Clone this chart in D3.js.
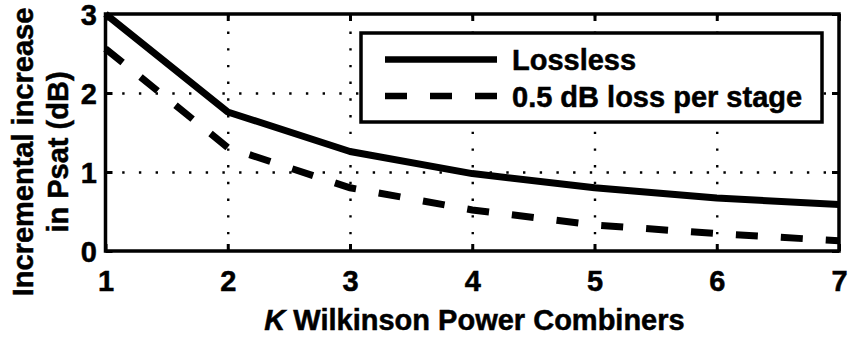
<!DOCTYPE html>
<html>
<head>
<meta charset="utf-8">
<script src="https://cdn.jsdelivr.net/npm/d3@7"></script>
<style>
  html, body { margin: 0; padding: 0; background: #fff; }
  svg { display: block; }
  text { font-family: "Liberation Sans", Arial, Helvetica, sans-serif; font-weight: bold; fill: #000; stroke: #000; stroke-width: 0.5px; }
</style>
</head>
<body>
<svg id="chart" width="848" height="337"></svg>
<script>
// Number of Wilkinson combiner stages
const stages = [1, 2, 3, 4, 5, 6, 7];
// Incremental Psat gain per added stage (dB)
const lossless = [3.0, 1.76, 1.26, 0.98, 0.80, 0.67, 0.59];
const lossyHalfDb = [2.56, 1.31, 0.80, 0.52, 0.33, 0.22, 0.13];
const xTicks = [1, 2, 3, 4, 5, 6, 7];
const yTicks = [0, 1, 2, 3];
const seriesNames = ["Lossless", "0.5 dB loss per stage"];

const W = 848, H = 337;
const m = { left: 105.5, right: W - 839, top: 14, bottom: H - 251 };
const iw = W - m.left - m.right, ih = H - m.top - m.bottom;
const FS = 29;

const svg = d3.select("#chart");
const g = svg.append("g").attr("transform", `translate(${m.left},${m.top})`);

const x = d3.scaleLinear().domain([1, 7]).range([0, iw]);
const y = d3.scaleLinear().domain([0, 3]).range([ih, 0]);

// dotted grid
const grid = g.append("g").attr("class", "grid");
grid.append("g")
  .attr("transform", `translate(0,${ih})`)
  .call(d3.axisBottom(x).tickValues(xTicks.slice(1, -1)).tickSize(-ih).tickFormat(""))
  .call(s => s.select(".domain").remove());
grid.append("g")
  .call(d3.axisLeft(y).tickValues(yTicks.slice(1, -1)).tickSize(-iw).tickFormat(""))
  .call(s => s.select(".domain").remove());
grid.selectAll("line")
  .attr("stroke", "#000").attr("stroke-width", 2.4)
  .attr("stroke-dasharray", "2.4,14.3");

// data lines
const line = d3.line().x((d, i) => x(stages[i])).y(d => y(d));
g.append("path").datum(lossless)
  .attr("d", line).attr("fill", "none")
  .attr("stroke", "#000").attr("stroke-width", 7).attr("stroke-linejoin", "round");
g.append("path").datum(lossyHalfDb)
  .attr("d", line).attr("fill", "none")
  .attr("stroke", "#000").attr("stroke-width", 7)
  .attr("stroke-dasharray", "22,23");

// axes with inward ticks on all four sides
const TK = 7;
const axB = g.append("g").attr("transform", `translate(0,${ih})`)
  .call(d3.axisBottom(x).tickValues(xTicks).tickSizeInner(-TK).tickSizeOuter(0).tickPadding(0).tickFormat(d3.format("d")));
axB.selectAll(".tick text").attr("y", 40).attr("dy", null).attr("font-size", FS);
const axL = g.append("g")
  .call(d3.axisLeft(y).tickValues(yTicks).tickSizeInner(-TK).tickSizeOuter(0).tickPadding(0).tickFormat(d3.format("d")));
axL.selectAll(".tick text").attr("x", -8.5).attr("dy", "0.36em").attr("font-size", FS);
g.append("g")
  .call(d3.axisTop(x).tickValues(xTicks).tickSizeInner(-TK).tickSizeOuter(0).tickFormat(""));
g.append("g").attr("transform", `translate(${iw},0)`)
  .call(d3.axisRight(y).tickValues(yTicks).tickSizeInner(-TK).tickSizeOuter(0).tickFormat(""));
g.selectAll(".tick line").filter(function () { return !this.closest(".grid"); })
  .attr("stroke", "#000").attr("stroke-width", 3);
g.selectAll(".domain").attr("stroke", "none");
g.selectAll(".tick text").attr("font-family", null).attr("fill", "#000");

// frame
g.append("rect").attr("x", 0).attr("y", 0).attr("width", iw).attr("height", ih)
  .attr("fill", "none").attr("stroke", "#000").attr("stroke-width", 3.5);

// legend
const lg = svg.append("g");
lg.append("rect").attr("x", 361).attr("y", 33).attr("width", 461).attr("height", 89)
  .attr("fill", "#fff").attr("stroke", "#000").attr("stroke-width", 3.5);
const rows = [
  { name: seriesNames[0], dash: null, cy: 59.5, base: 70 },
  { name: seriesNames[1], dash: "22,23", cy: 96, base: 107 }
];
rows.forEach(r => {
  lg.append("line").attr("x1", 385).attr("x2", 497).attr("y1", r.cy).attr("y2", r.cy)
    .attr("stroke", "#000").attr("stroke-width", 6.5)
    .attr("stroke-dasharray", r.dash);
  lg.append("text").attr("x", 512).attr("y", r.base).attr("font-size", FS).text(r.name);
});

// axis titles
const xt = svg.append("text").attr("x", 474.5).attr("y", 330)
  .attr("text-anchor", "middle").attr("font-size", FS);
xt.append("tspan").attr("font-style", "italic").text("K");
xt.append("tspan").text(" Wilkinson Power Combiners");

const yt = svg.append("g").attr("transform", "translate(0,152) rotate(-90)");
yt.append("text").attr("x", 0).attr("y", 33).attr("text-anchor", "middle")
  .attr("font-size", FS).text("Incremental increase");
yt.append("text").attr("x", 0).attr("y", 68).attr("text-anchor", "middle")
  .attr("font-size", FS).text("in Psat (dB)");
</script>
</body>
</html>
